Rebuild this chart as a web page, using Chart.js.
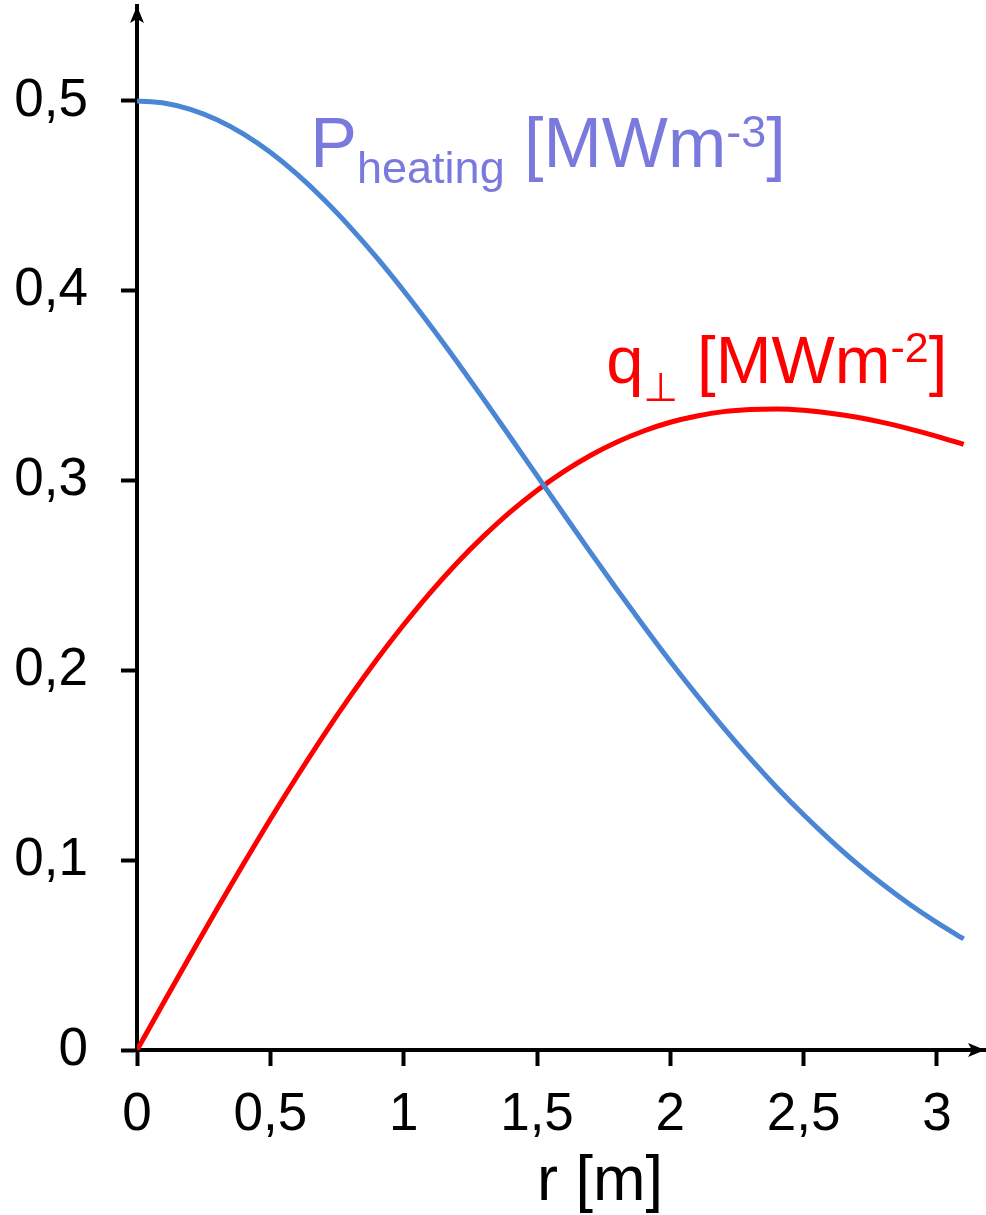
<!DOCTYPE html>
<html>
<head>
<meta charset="utf-8">
<script src="https://cdn.jsdelivr.net/npm/chart.js@4/dist/chart.umd.min.js"></script>
<style>
	html, body { margin: 0; padding: 0; background: #fff; }
	canvas { display: block; }
</style>
</head>
<body>
<canvas id="perfil" width="986" height="1215"></canvas>
<script>
	// raio (m)
	var raio = [0, 0.1, 0.2, 0.3, 0.4, 0.5, 0.6, 0.7, 0.8, 0.9, 1.0,
		1.1, 1.2, 1.3, 1.4, 1.5, 1.6, 1.7, 1.8, 1.9, 2.0,
		2.1, 2.2, 2.3, 2.4, 2.5, 2.6, 2.7, 2.8, 2.9, 3.0, 3.1];

	// P heating [MWm-3] (azul)
	var pHeating = [0.5000, 0.4989, 0.4956, 0.4901, 0.4825, 0.4729, 0.4614, 0.4482, 0.4334, 0.4173, 0.4000,
		0.3817, 0.3626, 0.3429, 0.3228, 0.3026, 0.2824, 0.2623, 0.2426, 0.2234, 0.2047,
		0.1868, 0.1697, 0.1535, 0.1382, 0.1239, 0.1106, 0.0982, 0.0869, 0.0765, 0.0671, 0.0585];

	// q perp [MWm-2] (vermelho)
	var qPerp = [0.0000, 0.0250, 0.0498, 0.0743, 0.0982, 0.1216, 0.1441, 0.1658, 0.1864, 0.2058, 0.2240,
		0.2410, 0.2566, 0.2707, 0.2835, 0.2948, 0.3047, 0.3132, 0.3203, 0.3261, 0.3307,
		0.3340, 0.3363, 0.3374, 0.3377, 0.3370, 0.3355, 0.3333, 0.3305, 0.3271, 0.3233, 0.3190];

	var ticksX = [0, 0.5, 1, 1.5, 2, 2.5, 3];
	var ticksY = [0, 0.1, 0.2, 0.3, 0.4, 0.5];

	function virgula(v) {
		return String(+v.toFixed(1)).replace('.', ',');
	}

	function pontos(ys) {
		var arr = [];
		for (var i = 0; i < raio.length; i++) {
			arr.push({ x: raio[i], y: ys[i] });
		}
		return arr;
	}

	// escreve texto com sub/sobrescritos
	function escreve(ctx, x, y, partes, cor) {
		ctx.fillStyle = cor;
		ctx.textBaseline = 'alphabetic';
		ctx.textAlign = 'left';
		partes.forEach(function (p) {
			ctx.font = p.size + 'px "Liberation Sans", Arial, "DejaVu Sans", sans-serif';
			ctx.fillText(p.t, x, y + p.dy);
			x += ctx.measureText(p.t).width;
		});
	}

	function semPadding(s) {
		s.paddingTop = 0;
		s.paddingBottom = 0;
		s.paddingLeft = 0;
		s.paddingRight = 0;
	}

	var eixosPlugin = {
		id: 'eixos',
		afterDraw: function (chart) {
			var ctx = chart.ctx;
			var sx = chart.scales.x, sy = chart.scales.y;
			var x0 = sx.getPixelForValue(0);
			var y0 = sy.getPixelForValue(0);
			var top = chart.chartArea.top;
			var right = chart.chartArea.right;
			ctx.save();
			ctx.fillStyle = '#000';
			// seta vertical
			ctx.beginPath();
			ctx.moveTo(x0, top);
			ctx.lineTo(x0 - 7, top + 17);
			ctx.lineTo(x0, top + 13);
			ctx.lineTo(x0 + 7, top + 17);
			ctx.closePath();
			ctx.fill();
			// seta horizontal
			ctx.beginPath();
			ctx.moveTo(right, y0);
			ctx.lineTo(right - 17, y0 - 7);
			ctx.lineTo(right - 13, y0);
			ctx.lineTo(right - 17, y0 + 7);
			ctx.closePath();
			ctx.fill();

			// titulo do eixo x
			ctx.font = '63px "Liberation Sans", Arial, sans-serif';
			ctx.textAlign = 'center';
			ctx.textBaseline = 'alphabetic';
			ctx.fillText('r [m]', sx.getPixelForValue(1.736), 1200);

			// legendas das curvas
			escreve(ctx, sx.getPixelForValue(0.65), sy.getPixelForValue(0.465), [
				{ t: 'P', size: 70, dy: 0 },
				{ t: 'heating', size: 45, dy: 16 },
				{ t: ' [MWm', size: 70, dy: 0 },
				{ t: '-3', size: 45, dy: -20 },
				{ t: ']', size: 70, dy: 0 }
			], '#7a7ade');
			escreve(ctx, sx.getPixelForValue(1.76), sy.getPixelForValue(0.3514), [
				{ t: 'q', size: 67, dy: 0 },
				{ t: '\u22A5', size: 40, dy: 18 },
				{ t: ' [MWm', size: 67, dy: 0 },
				{ t: '-2', size: 43, dy: -21 },
				{ t: ']', size: 67, dy: 0 }
			], '#ff0000');
			ctx.restore();
		}
	};

	var fonteTick = { family: '"Liberation Sans", Arial, sans-serif', size: 53 };

	let ctx = document.getElementById('perfil');
	let chart = new Chart(ctx, {
		type: 'line',
		data: {
			datasets: [{
				label: 'P heating',
				data: pontos(pHeating),
				borderColor: '#4a86d4',
				borderWidth: 5,
				pointRadius: 0,
				cubicInterpolationMode: 'monotone'
			}, {
				label: 'q perp',
				data: pontos(qPerp),
				borderColor: '#ff0000',
				borderWidth: 5,
				pointRadius: 0,
				cubicInterpolationMode: 'monotone'
			}]
		},
		options: {
			responsive: false,
			animation: false,
			devicePixelRatio: 1,
			layout: { padding: { left: 0, top: 6, right: 1, bottom: 0 } },
			plugins: { legend: { display: false }, tooltip: { enabled: false } },
			scales: {
				x: {
					type: 'linear',
					min: 0,
					max: 3.18,
					afterBuildTicks: function (s) { s.ticks = ticksX.map(function (v) { return { value: v }; }); },
					afterFit: function (s) { s.height = 165; semPadding(s); },
					ticks: { callback: virgula, color: '#000', font: fonteTick, padding: 18, maxRotation: 0 },
					grid: { drawOnChartArea: false, tickLength: 16, tickWidth: 4, tickColor: '#000' },
					border: { display: true, color: '#000', width: 4 }
				},
				y: {
					type: 'linear',
					min: 0,
					max: 0.55,
					afterBuildTicks: function (s) { s.ticks = ticksY.map(function (v) { return { value: v }; }); },
					afterFit: function (s) { s.width = 137; semPadding(s); },
					ticks: { callback: virgula, color: '#000', font: fonteTick, padding: 33 },
					grid: { drawOnChartArea: false, tickLength: 16, tickWidth: 4, tickColor: '#000' },
					border: { display: true, color: '#000', width: 4 }
				}
			}
		},
		plugins: [eixosPlugin]
	});
</script>
</body>
</html>
